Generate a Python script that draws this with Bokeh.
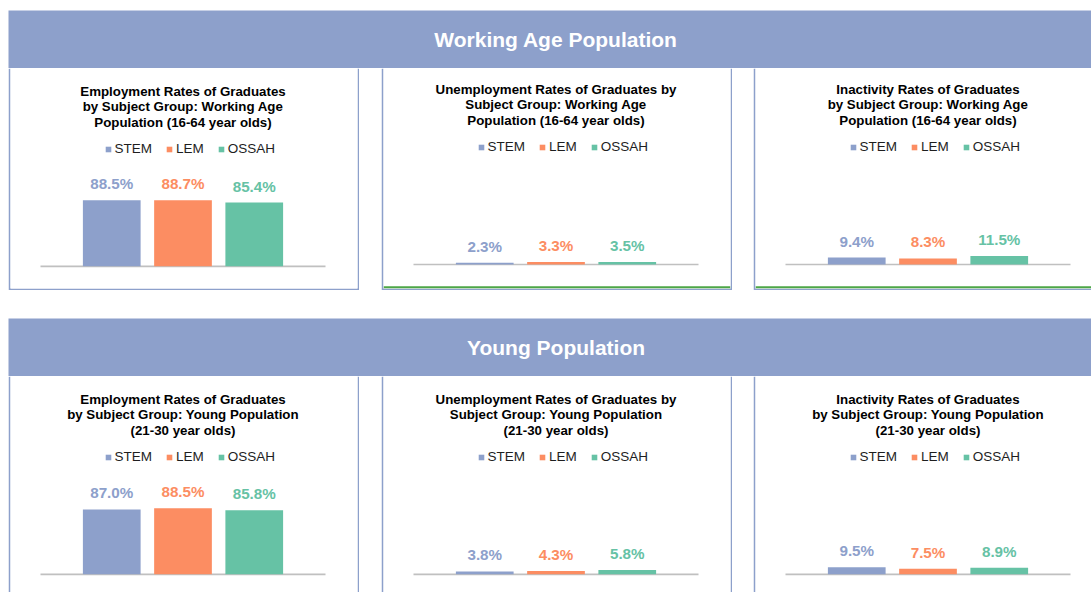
import numpy as np
from bokeh.plotting import figure
from bokeh.models import (Range1d, ColumnDataSource, Label, LabelSet, Legend,
                          LegendItem, Spacer, BoxAnnotation)
from bokeh.layouts import row, column
from bokeh.embed import file_html
from bokeh.resources import INLINE
from bokeh.core.properties import value

# ---------------- data ----------------
subjects = ["STEM", "LEM", "OSSAH"]
subject_colors = ["#8DA0CB", "#FC8D62", "#66C2A5"]

section_titles = ["Working Age Population", "Young Population"]

wa_employment = [88.5, 88.7, 85.4]
wa_unemployment = [2.3, 3.3, 3.5]
wa_inactivity = [9.4, 8.3, 11.5]

yp_employment = [87.0, 88.5, 85.8]
yp_unemployment = [3.8, 4.3, 5.8]
yp_inactivity = [9.5, 7.5, 8.9]

wa_titles = [
    ["Employment Rates of Graduates", "by Subject Group: Working Age", "Population (16-64 year olds)"],
    ["Unemployment Rates of Graduates by", "Subject Group: Working Age", "Population (16-64 year olds)"],
    ["Inactivity Rates of Graduates", "by Subject Group: Working Age", "Population (16-64 year olds)"],
]
yp_titles = [
    ["Employment Rates of Graduates", "by Subject Group: Young Population", "(21-30 year olds)"],
    ["Unemployment Rates of Graduates by", "Subject Group: Young Population", "(21-30 year olds)"],
    ["Inactivity Rates of Graduates", "by Subject Group: Young Population", "(21-30 year olds)"],
]

# ---------------- style / layout constants ----------------
FONT = "Liberation Sans"
BLUE = "#8DA0CB"
GREEN = "#4CA646"
AXIS_GREY = "#C0C0C0"
PPX = 71.25          # px per category step
PPY = 0.7458         # px per percentage point
BASE = 197.8         # baseline distance from frame top (px)
CENTER_PX = 172.5    # chart centre from frame left (px)
TITLE_BASELINES = [22.8, 38.2, 53.6]
LEGEND_ROW_CENTER = 81.0
HEAD_W = 1083


def panel(values, title_lines, width, height, b_left, b_right, b_bottom,
          green_bottom=False):
    n = len(subjects)
    xs = np.arange(n)
    center = (n - 1) / 2
    frame_w = width - b_left - b_right
    frame_h = height - b_bottom
    x0 = center - CENTER_PX / PPX
    y0 = -(frame_h - BASE) / PPY
    p = figure(width=width, height=height,
               x_range=Range1d(x0, x0 + frame_w / PPX),
               y_range=Range1d(y0, BASE / PPY),
               output_backend="svg", toolbar_location=None, title=None,
               x_axis_location=None, y_axis_location=None,
               min_border=0, min_border_left=b_left, min_border_right=b_right,
               min_border_top=0, min_border_bottom=b_bottom,
               border_fill_color=BLUE, background_fill_color="white",
               outline_line_color=None)
    p.grid.visible = False

    if green_bottom:
        p.add_layout(BoxAnnotation(bottom=y0, top=y0 + 2.2 / PPY,
                                   fill_color=GREEN, fill_alpha=1,
                                   line_color=None))

    src = ColumnDataSource(dict(
        x=xs, top=values, color=subject_colors, subj=subjects,
        label=[f"{v:.1f}%" for v in values]))

    # category axis baseline (one step beyond outer bars)
    p.segment(x0=[xs[0] - 1], x1=[xs[-1] + 1], y0=[0], y1=[0],
              line_color=AXIS_GREY, line_width=1.7)
    p.vbar(x="x", top="top", bottom=0, width=0.81, source=src,
           fill_color="color", line_color=None)

    p.add_layout(LabelSet(x="x", y="top", text="label", source=src,
                          y_offset=11, text_align="center",
                          text_baseline="alphabetic",
                          text_font=value(FONT), text_font_size=value("15.2px"),
                          text_font_style="bold", text_color="color"))

    for i, line in enumerate(title_lines):
        p.add_layout(Label(x=center, y=frame_h - TITLE_BASELINES[i],
                           x_units="data", y_units="screen", text=line,
                           text_align="center", text_baseline="alphabetic",
                           text_font=FONT, text_font_size="13.3px",
                           text_font_style="bold", text_color="#000000"))

    # legend via zero-size square markers
    sr = p.scatter(x="x", y="top", source=src, marker="square", size=0,
                   fill_color="color", line_color=None)
    items = [LegendItem(label=s, renderers=[sr], index=i)
             for i, s in enumerate(subjects)]
    legend = Legend(items=items, orientation="horizontal",
                    location=(CENTER_PX - 82, frame_h - LEGEND_ROW_CENTER - 7),
                    glyph_width=14, glyph_height=14, label_standoff=0,
                    spacing=10, padding=0, margin=0, label_height=14,
                    label_text_font=FONT, label_text_font_size="13.5px",
                    label_text_color="#1E1E1E",
                    border_line_color=None, background_fill_alpha=0)
    p.add_layout(legend)
    return p


def header(text, height):
    p = figure(width=HEAD_W, height=height, x_range=Range1d(0, 1),
               y_range=Range1d(0, 1), output_backend="svg",
               toolbar_location=None, title=None,
               x_axis_location=None, y_axis_location=None,
               min_border=0, background_fill_color=BLUE,
               border_fill_color=BLUE, outline_line_color=None)
    p.grid.visible = False
    p.add_layout(Label(x=547.5, y=29.3, x_units="screen", y_units="screen",
                       text=text, text_align="center",
                       text_baseline="alphabetic", text_font=FONT,
                       text_font_size="21px", text_font_style="bold",
                       text_color="white"))
    return p


p1 = panel(wa_employment, wa_titles[0], 351, 222, 2, 2, 2)
p2 = panel(wa_unemployment, wa_titles[1], 351, 222, 2, 2, 0, green_bottom=True)
p3 = panel(wa_inactivity, wa_titles[2], 338, 222, 2, 0, 0, green_bottom=True)
row1 = row(p1, Spacer(width=22, height=222), p2,
           Spacer(width=21, height=222), p3)

p4 = panel(yp_employment, yp_titles[0], 351, 216, 2, 2, 0)
p5 = panel(yp_unemployment, yp_titles[1], 351, 216, 2, 2, 0)
p6 = panel(yp_inactivity, yp_titles[2], 338, 216, 2, 0, 0)
row2 = row(p4, Spacer(width=22, height=216), p5,
           Spacer(width=21, height=216), p6)

main = column(Spacer(width=HEAD_W, height=10),
              header(section_titles[0], 58), row1,
              Spacer(width=HEAD_W, height=28),
              header(section_titles[1], 58), row2)
layout = row(Spacer(width=8, height=592), main)

open("out.html", "w").write(file_html(layout, INLINE))
